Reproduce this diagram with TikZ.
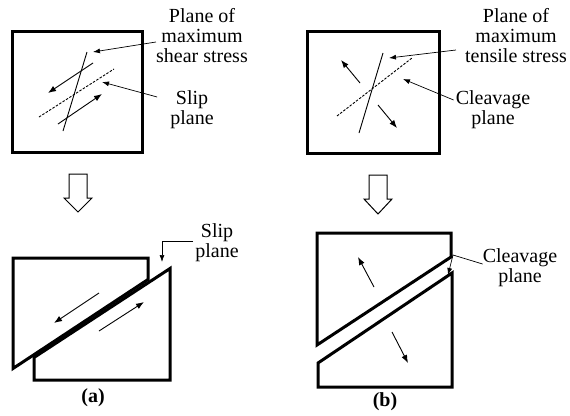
\documentclass[tikz,border=0pt]{standalone}
\usepackage{fontspec}
\setmainfont{Liberation Serif}
\usetikzlibrary{arrows.meta,positioning}

\begin{document}
\begin{tikzpicture}[
    x=1pt, y=-1pt,
    >={Latex[length=8pt,width=6pt]},
    box/.style={line width=3pt},
    piece/.style={line width=3pt, line join=miter},
    trace/.style={line width=0.9pt},
    slipline/.style={line width=0.9pt, dash pattern=on 2.5pt off 1.5pt},
    force/.style={line width=0.9pt, ->},
    lead/.style={line width=0.7pt, -{Latex[length=7pt,width=5pt]}},
    lbl/.style={font=\fontsize{20}{20}\selectfont, align=center, inner sep=0pt},
    hollow/.style={line width=1pt, line join=miter, fill=white}
]
\useasboundingbox (0,0) rectangle (570,415);

% ---- (a) slip: before ----
\draw[box] (12,31) rectangle (142,152);
\coordinate (shA1) at (87,52);
\coordinate (shA2) at (63,131);
\draw[trace] (shA1) -- (shA2);
\coordinate (slA1) at (39,117);
\coordinate (slA2) at (114,69);
\draw[slipline] (slA1) -- (slA2);
\coordinate (fA1) at (93,63);
\coordinate (fA2) at (48,93);
\draw[force] (fA1) -- (fA2);
\coordinate (fA3) at (58,124);
\coordinate (fA4) at (102,94);
\draw[force] (fA3) -- (fA4);

\node[lbl] (planeA) at (202,36) {Plane of\\maximum\\shear stress};
\node[lbl] (slipA) at (192,110) {Slip\\plane};
\coordinate (tipPA) at (93,52);
\coordinate (tipSA) at (102,82);
\draw[lead] ([yshift=-6pt]planeA.west) -- (tipPA);
\draw[lead] ([xshift=-13pt,yshift=13pt]slipA.west) -- (tipSA);

% hollow arrow
\draw[hollow] (69,174) -- (87,174) -- (87,198) -- (92,198) -- (78,212)
    -- (64,198) -- (69,198) -- cycle;

% ---- (a) slip: after ----
\draw[piece] (13,258) -- (148,258) -- (148,279.5) -- (13,368.5) -- cycle;
\draw[piece] (34,380) -- (170,380) -- (170,268.5) -- (34,357.5) -- cycle;
\coordinate (gA1) at (99,293);
\coordinate (gA2) at (54,323);
\draw[force] (gA1) -- (gA2);
\coordinate (gA3) at (99,331);
\coordinate (gA4) at (144,302);
\draw[force] (gA3) -- (gA4);

\node[lbl] (slipB) at (217,243) {Slip\\plane};
\coordinate (tipSB) at (162,262);
\draw[lead] ([xshift=-2pt,yshift=2pt]slipB.west) -| (tipSB);

\node[lbl, font=\fontsize{20}{20}\selectfont\bfseries] (capA) at (93,398) {(a)};

% ---- (b) cleavage: before ----
\draw[box] (307,31) rectangle (439,153);
\coordinate (tnB1) at (383,53);
\coordinate (tnB2) at (359,133);
\draw[trace] (tnB1) -- (tnB2);
\coordinate (clB1) at (337,116);
\coordinate (clB2) at (412,58);
\draw[slipline] (clB1) -- (clB2);
\coordinate (fB1) at (360,83);
\coordinate (fB2) at (341,60);
\draw[force] (fB1) -- (fB2);
\coordinate (fB3) at (378,105);
\coordinate (fB4) at (397,128);
\draw[force] (fB3) -- (fB4);

\node[lbl] (planeB) at (516,36) {Plane of\\maximum\\tensile stress};
\node[lbl] (cleavA) at (493,110) {Cleavage\\plane};
\coordinate (tipPB) at (389,58);
\coordinate (tipCA) at (403,79);
\draw[lead] ([xshift=-9pt,yshift=-14pt]planeB.west) -- (tipPB);
\draw[lead] ([xshift=-2pt,yshift=10pt]cleavA.west) -- (tipCA);

% hollow arrow
\draw[hollow] (369,175) -- (387,175) -- (387,199) -- (392,199) -- (378,214)
    -- (364,199) -- (369,199) -- cycle;

% ---- (b) cleavage: after ----
\draw[piece] (317,233) -- (451,233) -- (451,257) -- (317,345) -- cycle;
\draw[piece] (318,387) -- (452,387) -- (452,273) -- (318,363) -- cycle;
\coordinate (gB1) at (374,287);
\coordinate (gB2) at (358,257);
\draw[force] (gB1) -- (gB2);
\coordinate (gB3) at (392,332);
\coordinate (gB4) at (408,363);
\draw[force] (gB3) -- (gB4);

\node[lbl] (cleavB) at (520,268) {Cleavage\\plane};
\coordinate (kinkB) at (453,255);
\coordinate (tipCB) at (448,275);
\draw[lead] ([yshift=4pt]cleavB.west) -- (kinkB) -- (tipCB);

\node[lbl, font=\fontsize{20}{20}\selectfont\bfseries] (capB) at (385,402) {(b)};

\end{tikzpicture}
\end{document}
